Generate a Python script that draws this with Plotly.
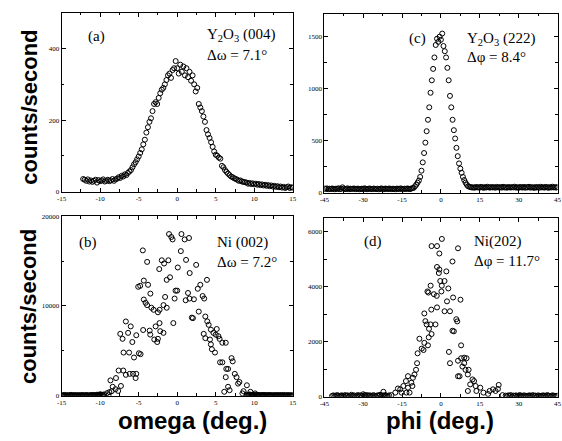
import plotly.graph_objects as go

W, H = 562, 441

# ---------------- data ----------------
# (a) Y2O3 (004) omega scan: start -12.2, step 0.2
omega_a_start, omega_a_step = -12.2, 0.2
counts_a = [35, 33, 30, 34, 28, 31, 27, 30, 33, 25, 32, 29, 31, 34, 28, 30, 33, 29, 31, 35, 30, 34,
            36, 40, 38, 44, 42, 48, 46, 52, 56, 60,
            68, 76, 82, 90, 98, 108, 118, 132, 145, 165, 180, 195, 205, 225, 245, 250, 245, 262, 275,
            285, 290, 300, 312, 325, 330, 318, 340, 345, 365,
            345, 330, 355, 335, 350, 325, 345, 320, 335, 310, 325, 300, 280, 290,
            245, 235, 225, 210, 195, 172, 160, 150, 138, 125, 112, 103, 100, 95, 92,
            72, 68, 60, 55, 50, 46, 42, 40, 37, 35, 33, 30,
            31, 28, 27, 26, 25, 22, 24, 21, 23, 20, 22, 19, 21, 18, 20, 17, 19, 16, 18, 15,
            17, 14, 16, 13, 15, 12, 14, 11, 13, 10, 12, 14, 10, 12, 11]

# (c) Y2O3 (222) phi scan: baselines step 0.5 (left from -45, right from 11), peak explicit
phi_c_left_start, phi_c_right_start, phi_c_base_step = -45.0, 11.0, 0.5
counts_c_left = [38, 34, 40, 31, 36, 33, 39, 35, 30, 37, 34, 41, 32, 36, 50, 38, 33, 35, 40, 31,
                 37, 34, 36, 39, 32, 35, 38, 30, 34, 37, 33, 40, 36, 31, 35, 39, 34, 32, 38, 36,
                 33, 37, 30, 35, 40, 34, 31, 38, 36, 33, 39, 35, 32, 37, 34, 30, 38, 36, 33, 40,
                 35, 31, 37, 34, 39, 36, 32, 38, 42]
phi_c_peak = [-10.5, -10.0, -9.5, -9.0, -8.5, -8.0, -7.5, -7.0, -6.5, -6.0, -5.5, -5.0, -4.5,
              -4.0, -3.5, -3.0, -2.5, -2.0, -1.5, -1.0, -0.5, 0.0, 0.5, 1.0, 1.5, 2.0, 2.5,
              3.0, 3.5, 4.0, 4.5, 5.0, 5.5, 6.0, 6.5, 7.0, 7.5, 8.0, 8.5, 9.0, 9.5, 10.0, 10.5]
counts_c_peak = [45, 60, 75, 95, 115, 150, 210, 290, 380, 480, 590, 700, 820, 960, 1080, 1190,
                 1300, 1420, 1480, 1450, 1500, 1470, 1530, 1410, 1360, 1300, 1200, 1080, 930,
                 820, 700, 600, 520, 430, 350, 280, 230, 190, 150, 120, 95, 75, 60]
counts_c_right = [55, 52, 48, 50, 46, 53, 49, 51, 47, 54, 50, 45, 52, 48, 55, 50, 47, 53, 49, 51,
                  46, 54, 50, 48, 52, 47, 55, 49, 51, 46, 53, 50, 48, 52, 49, 56, 47, 51, 45, 53,
                  50, 48, 54, 46, 52, 49, 55, 47, 51, 50, 44, 53, 48, 52, 46, 55, 49, 51, 47, 54,
                  50, 45, 52, 48, 56, 49, 51, 47, 53]

# (b) Ni (002) omega scan: baselines step 0.1 (left from -15.0, right from 9.0)
omega_b_left_start, omega_b_right_start, omega_b_base_step = -15.0, 9.0, 0.1
counts_b_left = [20, 60, 0, 40, 90, 10, 50, 30, 0, 70, 20, 40, 100, 0, 60, 30, 10, 80, 40, 0,
                 50, 20, 70, 0, 30, 60, 10, 90, 40, 20, 0, 50, 80, 30, 10, 60, 0, 40, 70, 20,
                 50, 100, 30, 0, 60, 40, 120, 10, 80, 30, 60, 150, 20, 90, 50]
counts_b_right = [120, 40, 90, 10, 150, 60, 30, 100, 0, 70, 40, 20, 80, 50, 0, 90, 30, 60, 10, 40,
                  70, 0, 50, 20, 80, 30, 60, 0, 40, 90, 10, 50, 20, 70, 0, 30, 60, 40, 10, 80,
                  20, 50, 0, 70, 30, 60, 10, 40, 90, 20, 0, 50, 30, 70, 10, 40, 60, 0, 30, 50, 20]
omega_b_peak = [-10.06, -9.5, -9.1, -8.9, -8.8, -8.66, -8.5, -8.37, -8.0, -7.94, -7.66, -7.6, -7.39,
                -7.3, -7.09, -7.0, -6.96, -6.66, -6.66, -6.37, -6.24, -6.16, -6.03, -5.82, -5.73,
                -5.6, -5.39, -5.31, -5.31, -4.97, -4.75, -5.06, -4.8, -4.46, -4.42, -4.33, -4.33,
                -4.1, -3.9, -3.78, -3.9, -3.57, -3.5, -3.48, -3.35, -3.06, -2.97, -2.8, -2.59, -2.5,
                -2.5, -2.33, -2.28, -2.2, -2.29, -2.0, -1.78, -1.78, -1.7, -1.57, -1.36, -1.36,
                -1.15, -1.06, -0.93, -0.76, -0.6, -0.5, -0.34, -0.21, 0.0, 0.08, 0.47, 0.55, 0.97,
                1.1, 1.15, 1.4, 1.53, 1.6, 1.62, 1.9, 2.04, 2.17, 2.46, 2.67, 2.8, 3.0, 3.3, 3.5,
                3.44, 3.65, 3.65, 3.86, 3.9, 4.08, 4.25, 4.37, 4.37, 4.5, 4.7, 4.9, 5.0, 5.13, 5.35,
                5.5, 5.56, 5.86, 5.86, 6.1, 6.3, 6.3, 6.37, 6.6, 6.6, 6.8, 7.05, 7.2, 7.47, 7.7, 7.9,
                8.07, 8.46, 8.6, 9.04, 9.25, 9.5, 9.7, 10.1, 10.5, 11.1]
counts_b_peak = [150, 150, 290, 80, 400, 1710, 510, 1000, 730, 1970, 540, 2810, 6890,
                 1090, 6340, 2810, 4810, 8270, 2330, 7000, 4810, 2440, 7720, 5980, 2440,
                 4260, 1970, 2440, 6740, 4730, 4630, 12130, 12240, 16180, 7320, 12820, 10710,
                 10350, 14900, 12350, 10090, 7250, 6810, 11370, 9800, 9570, 6260, 7720, 5980, 6340,
                 9290, 14100, 9570, 7190, 8090, 15080, 10090, 7000, 14720, 11000, 12900, 9800,
                 15080, 18000, 13190, 17670, 17400, 8090, 10820, 11700, 11700, 14280, 16100, 18000, 17400,
                 10630, 15120, 11440, 17560, 10820, 13660, 8700, 8640, 10740, 14570, 11910, 9370, 12350, 11100, 10820,
                 6890, 8820, 6410, 12900, 8280, 7900, 6260, 7360, 5720, 5180, 7000, 4810, 6800, 7430, 6630,
                 6330, 3720, 3720, 5900, 440, 5900, 2070, 2990, 2990, 1000, 620, 4190, 3830, 2440, 2070, 1350,
                 1530, 260, 510, 1170, 100, 440, 80, 260, 80, 80]

# (d) Ni (202) phi scan: baselines step 0.5 (left from -42, right from 25)
phi_d_left_start, phi_d_right_start, phi_d_base_step = -42.0, 25.0, 0.5
counts_d_left = [30, 50, 20, 40, 60, 30, 10, 50, 40, 20, 60, 30, 50, 20, 40, 70, 30, 50, 10, 40,
                 60, 20, 50, 30, 90, 40, 20, 60, 30, 50, 40, 20, 60, 30, 10, 50, 40, 70, 20, 50,
                 30, 60, 40, 20, 50]
counts_d_right = [40, 20, 50, 30, 60, 10, 40, 30, 50, 20, 40, 60, 30, 10, 50, 40, 20, 30, 50, 40,
                  20, 60, 30, 40, 10, 50, 30, 20, 40, 50, 30, 20, 60, 40, 30, 10, 50, 40, 20, 30, 40]
phi_d_peak = [-29.4, -22.2, -19.1,
              -17.6, -16.6, -15.7, -15.2, -14.5, -13.5, -13.3, -12.7, -12.7, -12.1, -11.4, -11.0,
              -10.8, -10.2, -9.6, -9.2, -9.0, -8.3, -7.4, -6.7, -6.4, -6.4, -6.0, -5.5, -5.2, -5.0,
              -4.83, -4.7, -4.6, -4.0, -3.97, -3.7, -3.6, -3.6, -2.7, -2.1, -1.6, -1.5, -1.5, -1.5,
              -0.8, -0.6, -0.6, -0.25, 0.2, 0.35, 0.37, 1.4, 1.4, 2.1, 2.35, 2.86, 3.1, 3.5, 3.5,
              4.46, 4.46, 4.7, 5.0, 5.95, 6.3, 6.6, 6.6, 6.6, 7.2, 7.55, 7.8, 7.8, 8.3, 9.0, 9.0,
              9.5, 9.9, 10.4, 10.4, 10.7, 11.3, 12.2, 12.8, 13.4, 13.7, 15.2, 16.4, 18.2, 18.8,
              20.1, 21.1, 22.0, 22.3, 23.8]
counts_d_peak = [60, 180, 60,
                 150, 300, 270, 150, 390, 570, 150, 750, 330, 150, 510, 390,
                 690, 810, 980, 1220, 1580, 2110, 1750, 1700, 3030, 1960, 2750, 2630, 3830, 1870,
                 3790, 2160, 2470, 2630, 4040, 3170, 2280, 5480, 3730, 2630, 3670, 5480, 4720, 3250,
                 4500, 5210, 4630, 4210, 3830, 4040, 5740, 4210, 3110, 4560, 3470, 3940, 1630, 3110, 1220,
                 4920, 2400, 3610, 2380, 2820, 2740, 5400, 1310, 745, 745, 3530, 1870, 1400, 1100, 1420, 1220,
                 980, 1400, 810, 210, 980, 450, 630, 570, 390, 210, 330, 150, 100, 210,
                 270, 210, 280, 430, 60]

# tick labels
ticks_omega = [-15, -10, -5, 0, 5, 10, 15]
ticks_phi = [-45, -30, -15, 0, 15, 30, 45]
ticks_a_y = [0, 200, 400]
ticks_b_y = [0, 10000, 20000]
ticks_c_y = [0, 500, 1000, 1500]
ticks_d_y = [0, 2000, 4000, 6000]


def grid(start, step, vals):
    return [round(start + step * i, 2) for i in range(len(vals))]


omega_a = grid(omega_a_start, omega_a_step, counts_a)
phi_c = grid(phi_c_left_start, phi_c_base_step, counts_c_left) + phi_c_peak + \
    grid(phi_c_right_start, phi_c_base_step, counts_c_right)
counts_c = counts_c_left + counts_c_peak + counts_c_right
omega_b = grid(omega_b_left_start, omega_b_base_step, counts_b_left) + omega_b_peak + \
    grid(omega_b_right_start, omega_b_base_step, counts_b_right)
counts_b = counts_b_left + counts_b_peak + counts_b_right
phi_d = grid(phi_d_left_start, phi_d_base_step, counts_d_left) + phi_d_peak + \
    grid(phi_d_right_start, phi_d_base_step, counts_d_right)
counts_d = counts_d_left + counts_d_peak + counts_d_right

# ---------------- figure ----------------
marker = dict(symbol="circle-open", size=5, color="black", line=dict(width=1, color="black"))

fig = go.Figure()
fig.add_trace(go.Scatter(x=omega_a, y=counts_a, mode="markers", marker=marker, xaxis="x", yaxis="y"))
fig.add_trace(go.Scatter(x=phi_c, y=counts_c, mode="markers", marker=marker, xaxis="x2", yaxis="y2"))
fig.add_trace(go.Scatter(x=omega_b, y=counts_b, mode="markers", marker=marker, xaxis="x3", yaxis="y3"))
fig.add_trace(go.Scatter(x=phi_d, y=counts_d, mode="markers", marker=marker, xaxis="x4", yaxis="y4"))


def px_x(p):
    return p / W


def px_y(p):
    return 1 - p / H


tickfont = dict(family="Liberation Serif", size=7, color="black")


def ax(dom, rng, tv, anchor, minor):
    return dict(domain=dom, range=rng, tickvals=tv, ticktext=[str(v) for v in tv],
                ticks="inside", ticklen=4, tickwidth=1, tickcolor="black",
                showline=True, linecolor="black", linewidth=1, mirror="ticks",
                showgrid=False, zeroline=False, tickfont=tickfont, anchor=anchor,
                minor=dict(dtick=minor, tick0=0, ticks="inside", ticklen=2.5,
                           tickcolor="black", showgrid=False))


xl = [px_x(57.5), px_x(292.5)]
xr = [px_x(324.5), px_x(561.5)]

fig.update_layout(
    width=W, height=H, margin=dict(l=0, r=0, t=0, b=0), autosize=False,
    paper_bgcolor="white", plot_bgcolor="white", showlegend=False,
    xaxis=ax(xl, [-15, 15], ticks_omega, "y", 2.5),
    yaxis=ax([px_y(191), px_y(9)], [0, 500], ticks_a_y, "x", 100),
    xaxis2=ax(xr, [-45, 45], ticks_phi, "y2", 7.5),
    yaxis2=ax([px_y(192), px_y(10)], [0, 1720], ticks_c_y, "x2", 250),
    xaxis3=ax(xl, [-15, 15], ticks_omega, "y3", 2.5),
    yaxis3=ax([px_y(399), px_y(216)], [0, 20000], ticks_b_y, "x3", 5000),
    xaxis4=ax(xr, [-45, 45], ticks_phi, "y4", 7.5),
    yaxis4=ax([px_y(400), px_y(218)], [0, 6500], ticks_d_y, "x4", 1000),
)

serif = dict(family="Liberation Serif", size=15, color="black")
sans = dict(family="Liberation Sans", size=22, color="black", weight="bold")

texts = [
    ("(a)", 82, 33, "left", serif, 0),
    ("Y<sub>2</sub>O<sub>3</sub> (004)", 203, 32, "left", serif, 0),
    ("Δω = 7.1°", 203, 52, "left", serif, 0),
    ("(c)", 409, 35, "left", serif, 0),
    ("Y<sub>2</sub>O<sub>3</sub> (222)", 467, 36, "left", serif, 0),
    ("Δφ = 8.4°", 467, 54, "left", serif, 0),
    ("(b)", 73, 243, "left", serif, 0),
    ("Ni (002)", 213, 243, "left", serif, 0),
    ("Δω = 7.2°", 213, 263, "left", serif, 0),
    ("(d)", 363, 242, "left", serif, 0),
    ("Ni(202)", 475, 242, "left", serif, 0),
    ("Δφ = 11.7°", 475, 262, "left", serif, 0),
    ("counts/second", 24, 105, "center", sans, -90),
    ("counts/second", 24, 308, "center", sans, -90),
    ("omega (deg.)", 191, 424, "center", dict(sans, size=24), 0),
    ("phi (deg.)", 442, 424, "center", dict(sans, size=24), 0),
]
for t, x, y, anc, f, ang in texts:
    fig.add_annotation(text=t, x=px_x(x), y=px_y(y), xref="paper", yref="paper",
                       xanchor=anc, yanchor="middle", showarrow=False, font=f, textangle=ang)

fig.write_html("out.html")
